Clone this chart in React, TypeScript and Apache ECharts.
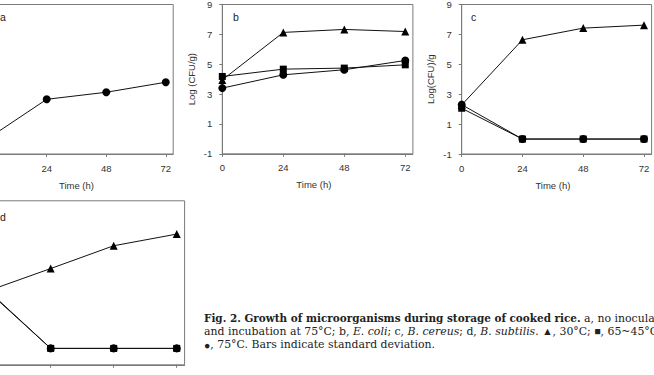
import React, { useEffect, useRef } from "react";
import * as echarts from "echarts";

// Storage time (h)
const hours = [0, 24, 48, 72];
const yTicks = [-1, 1, 3, 5, 7, 9];
const xTicks = [0, 24, 48, 72];

// a: no inoculation, 75°C
const aCircle = [0.0, 2.66, 3.13, 3.8];
// b: E. coli
const bTriangle = [3.95, 7.13, 7.33, 7.19];
const bSquare = [4.18, 4.67, 4.74, 4.96];
const bCircle = [3.4, 4.29, 4.63, 5.25];
// c: B. cereus
const cTriangle = [2.28, 6.64, 7.42, 7.62];
const cSquare = [2.06, 0, 0, 0];
const cCircle = [2.3, 0, 0, 0];
// d: B. subtilis
const dTriangle = [3.5, 4.87, 6.26, 6.97];
const dSquare = [3.55, 0, 0, 0];
const dCircle = [3.5, 0, 0, 0];

// Figure caption, one rich-text line per entry
const captionLines = [
  "{b|Fig. 2. Growth of microorganisms during storage of cooked rice.}{n| a, no inoculation}",
  "{n|and incubation at 75°C; b, }{i|E. coli}{n|; c, }{i|B. cereus}{n|; d, }{i|B. subtilis.}{n| }{s|▲}{n|, 30°C; }{s|■}{n|, 65~45°C;}",
  "{s|●}{n|, 75°C. Bars indicate standard deviation.}",
];

const SANS = "'Liberation Sans', Arial, sans-serif";
const SERIF = "'DejaVu Serif', 'Liberation Serif', serif";
const SERIF_BOLD = "'DejaVu Serif Condensed', 'Liberation Serif', serif";
const AXIS_COLOR = "#7a7a7a";
const TEXT_COLOR = "#333";

const pairs = (vals: number[]) => hours.map((h, i) => [h, vals[i]]);

type Panel = {
  left: number;
  top: number;
  width: number;
  height: number;
  yName: string;
  xLabels: number[];
  showXName: boolean;
  showY: boolean;
};

// Panels a and d sit partly outside the page, so only their visible parts carry text
const panels: Panel[] = [
  { left: -12.8, top: 4.5, width: 186, height: 149.5, yName: "", xLabels: [24, 48, 72], showXName: true, showY: false },
  { left: 222.3, top: 4.5, width: 190.6, height: 149.3, yName: "Log (CFU/g)", xLabels: xTicks, showXName: true, showY: true },
  { left: 461.7, top: 4.5, width: 189.9, height: 149.5, yName: "Log(CFU)/g", xLabels: xTicks, showXName: true, showY: true },
  { left: -12.3, top: 200.8, width: 196.9, height: 164, yName: "", xLabels: [], showXName: false, showY: false },
];

function makeSeries(idx: number, symbol: string, vals: number[], size: number) {
  return {
    type: "line",
    xAxisIndex: idx,
    yAxisIndex: idx,
    data: pairs(vals),
    symbol,
    symbolSize: size,
    showSymbol: true,
    lineStyle: { color: "#111", width: 1 },
    itemStyle: { color: "#000" },
    z: 3,
  };
}

export default function App() {
  const ref = useRef<HTMLDivElement>(null);

  useEffect(() => {
    if (!ref.current) return;
    const chart = echarts.init(ref.current, undefined, { renderer: "svg" });

    const grid = panels.map((p) => ({
      left: p.left,
      top: p.top,
      width: p.width,
      height: p.height,
      show: true,
      borderColor: AXIS_COLOR,
      borderWidth: 1,
      backgroundColor: "transparent",
      containLabel: false,
      outerBoundsMode: "none",
    }));

    const xAxis = panels.map((p, i) => ({
      type: "value",
      gridIndex: i,
      min: 0,
      max: 75,
      name: p.showXName ? "Time (h)" : "",
      nameLocation: "middle",
      nameGap: 26,
      nameTextStyle: {
        fontFamily: SANS,
        fontSize: 9.5,
        color: TEXT_COLOR,
        padding: [0, 7.5, 0, 0],
      },
      axisLine: { show: true, onZero: false, lineStyle: { color: AXIS_COLOR, width: 1 } },
      axisTick: {
        show: true,
        inside: false,
        length: 3,
        customValues: xTicks,
        lineStyle: { color: AXIS_COLOR },
      },
      axisLabel: {
        show: p.xLabels.length > 0,
        customValues: p.xLabels,
        fontFamily: SANS,
        fontSize: 9.5,
        color: TEXT_COLOR,
        margin: 9,
      },
      splitLine: { show: false },
    }));

    const yAxis = panels.map((p, i) => ({
      type: "value",
      gridIndex: i,
      min: -1,
      max: 9,
      name: p.yName,
      nameLocation: "middle",
      nameGap: 26,
      nameRotate: 90,
      nameTextStyle: {
        fontFamily: SANS,
        fontSize: 9.5,
        color: TEXT_COLOR,
      },
      axisLine: { show: true, onZero: false, lineStyle: { color: AXIS_COLOR, width: 1 } },
      axisTick: {
        show: true,
        inside: false,
        length: 3,
        customValues: yTicks,
        lineStyle: { color: AXIS_COLOR },
      },
      axisLabel: {
        show: p.showY,
        customValues: yTicks,
        fontFamily: SANS,
        fontSize: 9.5,
        color: TEXT_COLOR,
        margin: 10,
      },
      splitLine: { show: false },
    }));

    const series = [
      makeSeries(0, "circle", aCircle, 8),
      makeSeries(1, "triangle", bTriangle, 8),
      makeSeries(1, "circle", bCircle, 8),
      makeSeries(1, "rect", bSquare, 7),
      makeSeries(2, "triangle", cTriangle, 8),
      makeSeries(2, "circle", cCircle, 8),
      makeSeries(2, "rect", cSquare, 7),
      makeSeries(3, "triangle", dTriangle, 8),
      makeSeries(3, "circle", dCircle, 8),
      makeSeries(3, "rect", dSquare, 7),
    ];

    const panelLetter = (text: string, x: number, y: number) => ({
      type: "text",
      x,
      y,
      style: {
        text,
        fontFamily: SANS,
        fontSize: 10.5,
        fill: "#222",
        verticalAlign: "middle",
      },
    });

    const FS = 10.9;
    const captionRich = {
      b: { fontFamily: SERIF_BOLD, fontSize: 11.6, fontWeight: "bold", fill: "#222" },
      n: { fontFamily: SERIF, fontSize: FS, fill: "#222" },
      i: { fontFamily: SERIF, fontSize: FS, fontStyle: "italic", fill: "#222" },
      s: { fontFamily: SANS, fontSize: 10.5, fill: "#222" },
    };

    const captionY = [318, 331.3, 344.6];

    chart.setOption({
      animation: false,
      backgroundColor: "#fff",
      grid,
      xAxis,
      yAxis,
      series,
      graphic: [
        panelLetter("a", 0, 17),
        panelLetter("b", 233, 17),
        panelLetter("c", 471, 17),
        panelLetter("d", 0, 216.5),
        ...captionLines.map((text, k) => ({
          type: "text",
          x: 204,
          y: captionY[k],
          style: { text, rich: captionRich, verticalAlign: "middle" },
        })),
      ],
    });

    return () => chart.dispose();
  }, []);

  return (
    <div
      ref={ref}
      style={{ position: "absolute", left: 0, top: 0, width: 654, height: 375 }}
    />
  );
}
